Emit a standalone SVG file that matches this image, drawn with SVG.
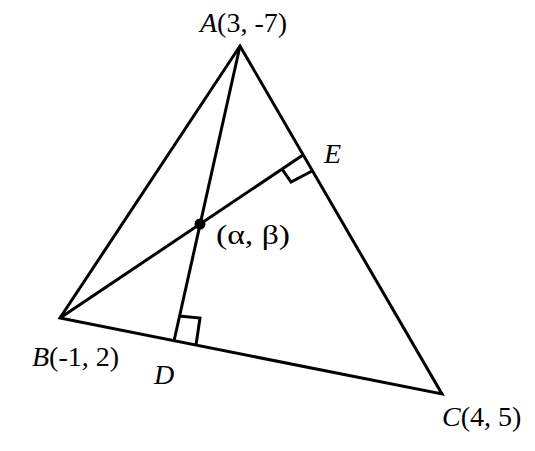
<svg xmlns="http://www.w3.org/2000/svg" width="535" height="451" viewBox="0 0 535 451">
<style>
.ln{stroke:#000;stroke-width:3;fill:none;stroke-linejoin:miter;stroke-linecap:butt}
.lb{font-family:"Liberation Serif","Times New Roman",serif;font-size:28px;fill:#000}
.it{font-style:italic}
</style>
<rect width="535" height="451" fill="#fff"/>
<g id="connectors">
<polygon class="ln" points="240,46 60,318 442,394"/>
<line class="ln" x1="240" y1="46" x2="174" y2="341"/>
<line class="ln" x1="60" y1="318" x2="303" y2="155"/>
<polyline class="ln" points="282,169 291,182 312,171"/>
<polyline class="ln" points="179,316 200,318 196,345"/>
</g>
<g id="node-A"><text class="lb" x="200" y="32"><tspan class="it">A</tspan>(3, -7)</text></g>
<g id="node-B"><text class="lb" x="32" y="366"><tspan class="it">B</tspan>(-1, 2)</text></g>
<g id="node-C"><text class="lb" x="442" y="426"><tspan class="it">C</tspan>(4, 5)</text></g>
<g id="node-D"><text class="lb it" x="154" y="384">D</text></g>
<g id="node-E"><text class="lb it" x="324" y="163">E</text></g>
<g id="node-H"><circle cx="200" cy="224" r="5.5" fill="#000"/><text class="lb" x="216" y="244" textLength="74" lengthAdjust="spacingAndGlyphs">(α, β)</text></g>
</svg>
